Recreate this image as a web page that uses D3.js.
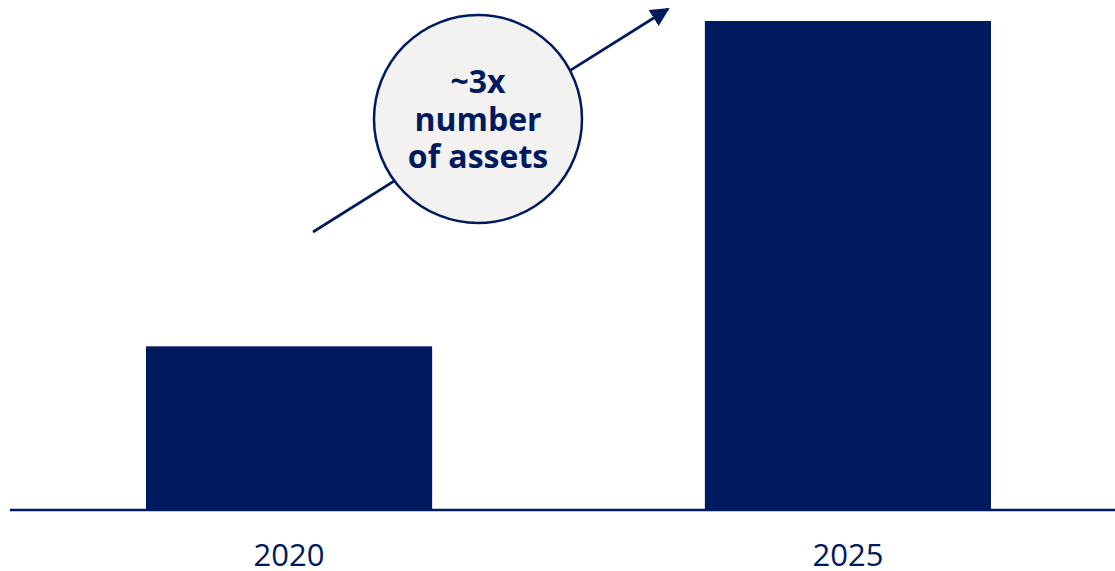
<!DOCTYPE html>
<html>
<head>
<meta charset="utf-8">
<script src="https://cdn.jsdelivr.net/npm/d3@7"></script>
<style>
  html, body { margin: 0; padding: 0; background: #fff; }
  svg { display: block; font-family: 'Open Sans', sans-serif; }
</style>
</head>
<body>
<div id="chart"></div>
<script>
const WIDTH = 1115
const HEIGHT = 571
const NAVY = '#001a60'

const years = ['2020', '2025']
const assets = [1, 3]
const calloutLines = ['~3x', 'number', 'of assets']

const svg = d3.select('#chart')
  .append('svg')
  .attr('width', WIDTH)
  .attr('height', HEIGHT)

const x = d3.scaleBand()
  .domain(years)
  .range([146, 991])
  .paddingInner(0.488)
  .paddingOuter(0)

const y = d3.scaleLinear()
  .domain([0, 3])
  .range([509, 21])

// bars
svg.append('g')
  .selectAll('rect')
  .data(years)
  .join('rect')
  .attr('x', d => x(d))
  .attr('y', (d, i) => y(assets[i]))
  .attr('width', x.bandwidth())
  .attr('height', (d, i) => y(0) - y(assets[i]))
  .attr('fill', NAVY)

// baseline
svg.append('line')
  .attr('x1', 10)
  .attr('x2', WIDTH)
  .attr('y1', 510)
  .attr('y2', 510)
  .attr('stroke', NAVY)
  .attr('stroke-width', 2.5)

// year labels
const xAxis = svg.append('g')
  .attr('transform', 'translate(0, 510)')
  .call(d3.axisBottom(x).tickSize(0).tickPadding(0))
xAxis.select('.domain').remove()
xAxis.selectAll('text')
  .attr('dy', null)
  .attr('y', 56)
  .attr('fill', NAVY)
  .attr('font-size', 31)
  .attr('font-family', "'Open Sans', sans-serif")

// growth arrow
svg.append('defs').append('marker')
  .attr('id', 'head')
  .attr('viewBox', '0 0 10 10')
  .attr('refX', 9)
  .attr('refY', 5)
  .attr('markerWidth', 7)
  .attr('markerHeight', 7)
  .attr('markerUnits', 'strokeWidth')
  .attr('orient', 'auto')
  .append('path')
  .attr('d', 'M0,0 L10,5 L0,10 Z')
  .attr('fill', NAVY)

svg.append('line')
  .attr('x1', 313)
  .attr('y1', 232)
  .attr('x2', 668)
  .attr('y2', 9)
  .attr('stroke', NAVY)
  .attr('stroke-width', 2.7)
  .attr('marker-end', 'url(#head)')

// callout bubble
const bubble = svg.append('g').attr('transform', 'translate(478, 119)')
bubble.append('circle')
  .attr('r', 104)
  .attr('fill', '#f3f2f1')
  .attr('stroke', NAVY)
  .attr('stroke-width', 2.5)
bubble.selectAll('text')
  .data(calloutLines)
  .join('text')
  .attr('text-anchor', 'middle')
  .attr('y', (d, i) => -26 + i * 37.5)
  .attr('fill', NAVY)
  .attr('font-size', 32)
  .attr('font-weight', 700)
  .text(d => d)
</script>
</body>
</html>
